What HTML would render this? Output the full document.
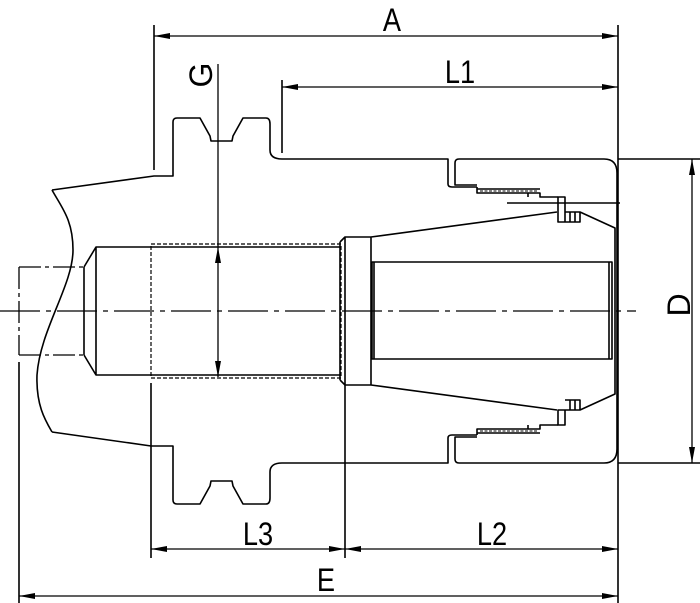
<!DOCTYPE html>
<html><head><meta charset="utf-8"><style>html,body{margin:0;padding:0;background:#fff}svg{display:block}</style></head>
<body>
<svg width="700" height="603" viewBox="0 0 700 603" xmlns="http://www.w3.org/2000/svg">
<defs>
<marker id="ar" viewBox="0 0 16 6" refX="16" refY="3" markerWidth="16" markerHeight="6" orient="auto-start-reverse" markerUnits="userSpaceOnUse"><path d="M0,0 L16,3 L0,6 Z" fill="#000"/></marker>
</defs>
<g fill="none" stroke="#000" stroke-width="1.6" stroke-linejoin="round">
<!-- extension lines -->
<line x1="154" y1="25" x2="154" y2="170"/>
<line x1="618" y1="25" x2="618" y2="603"/>
<line x1="282" y1="80" x2="282" y2="153"/>
<line x1="19" y1="362" x2="19" y2="603"/>
<line x1="151" y1="383" x2="151" y2="558"/>
<line x1="345" y1="385" x2="345" y2="558"/>
<line x1="618" y1="159" x2="700" y2="159"/>
<line x1="618" y1="463" x2="700" y2="463"/>
<!-- dimension lines -->
<line x1="154" y1="36" x2="618" y2="36" marker-start="url(#ar)" marker-end="url(#ar)" stroke-width="1.3"/>
<line x1="282" y1="87" x2="618" y2="87" marker-start="url(#ar)" marker-end="url(#ar)" stroke-width="1.3"/>
<line x1="151" y1="549" x2="345" y2="549" marker-start="url(#ar)" marker-end="url(#ar)" stroke-width="1.3"/>
<line x1="345" y1="549" x2="618" y2="549" marker-start="url(#ar)" marker-end="url(#ar)" stroke-width="1.3"/>
<line x1="19" y1="596" x2="618" y2="596" marker-start="url(#ar)" marker-end="url(#ar)" stroke-width="1.3"/>
<line x1="692" y1="159" x2="692" y2="463" marker-start="url(#ar)" marker-end="url(#ar)" stroke-width="1.3"/>
<line x1="218" y1="64" x2="218" y2="247" stroke-width="1.3"/>
<line x1="218" y1="247" x2="218" y2="377" marker-start="url(#ar)" marker-end="url(#ar)" stroke-width="1.3"/>
<!-- body top -->
<path d="M52,190 L154,176 L173,176 L173,122 Q173,118 177,118 L200,118 L210,136 L211,141 L232,141 L233,136 L243,118 L266,118 Q270,118 270,124 L270,150 Q270,159 282,159 L448,159 L448,184 Q448,187 452,187 L477,187"/>
<path d="M52,432 L151,446 L173,446 L173,500 Q173,504 177,504 L200,504 L210,486 L211,481 L232,481 L233,486 L243,504 L266,504 Q270,504 270,498 L270,472 Q270,463 282,463 L448,463 L448,438 Q448,435 452,435 L477,435"/>
<!-- break curve -->
<path d="M52,190 C62,208 73,220 73,250 C73,285 40,330 37,375 C36,405 45,420 52,432"/>
<!-- nut -->
<path d="M455,163 L455,185 L477,185 M455,163 Q455,159 459,159 L604,159 Q617,159 617,173 L617,449 Q617,463 604,463 L459,463 Q455,463 455,459 L455,437 L477,437"/>
<!-- threads top -->
<path d="M477,187 L477,193 L540,193 L540,197 L558,197 M477,189 L540,189 M528,193 L528,197"/>
<path d="M477,435 L477,429 L540,429 L540,425 L558,425 M477,433 L540,433 M528,429 L528,425"/>
<line x1="480" y1="191" x2="538" y2="191" stroke-dasharray="3,1.5" stroke-width="1"/>
<line x1="480" y1="431" x2="538" y2="431" stroke-dasharray="3,1.5" stroke-width="1"/>
<!-- collar -->
<path d="M558,197 L565,197 L565,222 L558,222 Z M565,212 L580,212 L580,222 L565,222 M570,212 L570,222 M575,212 L575,222 M580,212 L615,228 L615,394 L580,410 M558,410 L565,410 L565,425 L558,425 Z M565,410 L580,410 L580,400 L565,400 M570,400 L570,410 M575,400 L575,410"/>
<line x1="507" y1="203" x2="620" y2="203"/>
<!-- shank -->
<path d="M84,267 L96,247 L340,247 M84,355 L96,375 L340,375 M84,267 L84,355 M96,247 L96,375"/>
<rect x="151" y="244" width="190" height="134" stroke-dasharray="4,2" stroke-width="1.2"/>
<path d="M19,267 L84,267 M19,355 L84,355 M19,267 L19,355" stroke-dasharray="22,4,4,4" stroke-width="1.3"/>
<!-- collet body -->
<path d="M340,242 L345,237 L371,237 L557,212 M340,380 L345,385 L371,385 L557,410 M340,242 L340,380 M345,237 L345,385 M371,237 L371,385"/>
<rect x="372" y="262" width="240" height="97"/>
<line x1="374" y1="262" x2="374" y2="359"/>
<line x1="609" y1="262" x2="609" y2="359"/>
<!-- centre line -->
<line x1="0" y1="311" x2="636" y2="311" stroke-width="1.2" stroke-dasharray="40,6,5,6"/>
</g>
<g font-family="'Liberation Sans', sans-serif" font-size="32" fill="#000" text-anchor="middle">
<text x="392" y="31" transform="translate(392,31) scale(0.85,1) translate(-392,-31)">A</text>
<text x="460" y="83" transform="translate(460,83) scale(0.85,1) translate(-460,-83)">L1</text>
<text x="258" y="545" transform="translate(258,545) scale(0.85,1) translate(-258,-545)">L3</text>
<text x="492" y="545" transform="translate(492,545) scale(0.85,1) translate(-492,-545)">L2</text>
<text x="326" y="591" transform="translate(326,591) scale(0.85,1) translate(-326,-591)">E</text>
<text transform="translate(212,75) rotate(-90)" y="0">G</text>
<text transform="translate(690,305) rotate(-90)" y="0">D</text>
</g>
</svg>
</body></html>
